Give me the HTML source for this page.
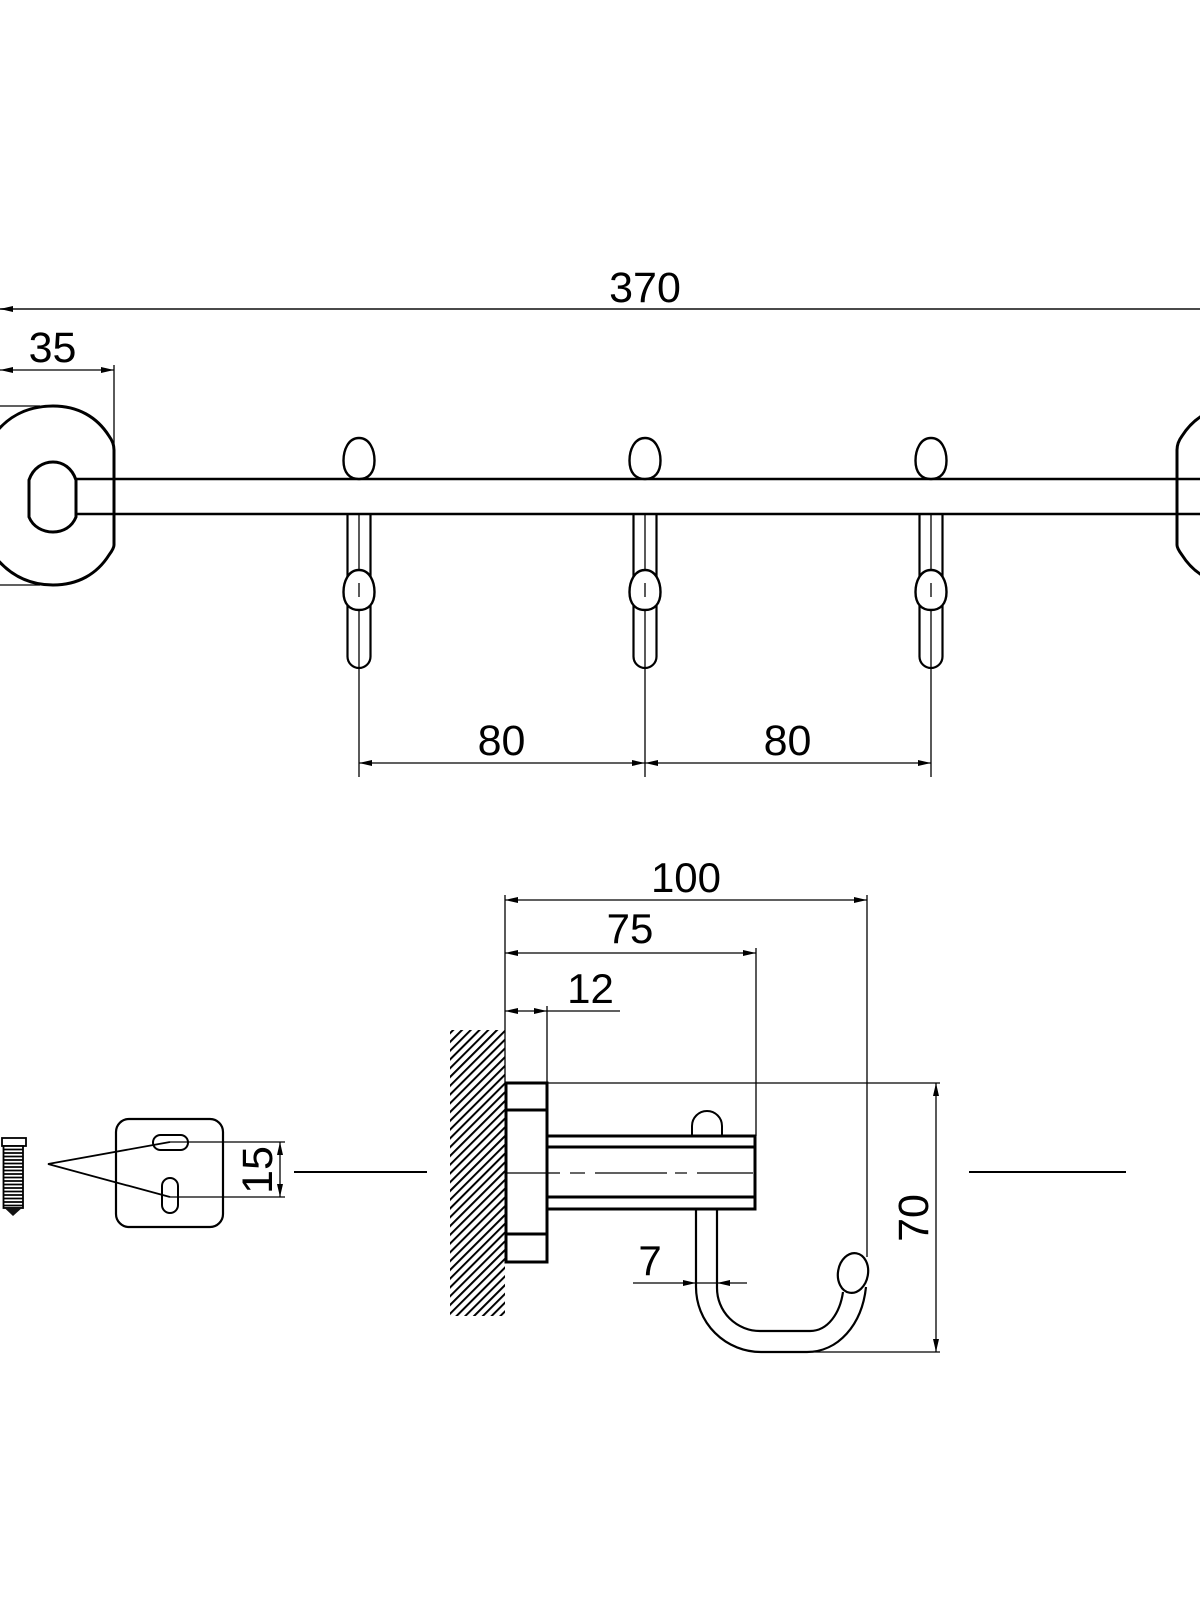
<!DOCTYPE html>
<html>
<head>
<meta charset="utf-8">
<style>
html,body{margin:0;padding:0;background:#fff;}
svg{display:block;}
text{font-family:"Liberation Sans",Arial,sans-serif;fill:#000;}
</style>
</head>
<body>
<svg width="1200" height="1600" viewBox="0 0 1200 1600" xmlns="http://www.w3.org/2000/svg">
<defs>
<pattern id="hatch" width="6.2" height="6.2" patternUnits="userSpaceOnUse" patternTransform="rotate(45)">
<line x1="1" y1="0" x2="1" y2="6.2" stroke="#000" stroke-width="2"/>
</pattern>
<g id="hook">
<path d="M-11.5,515 V656.5 A11.5,11.5 0 0 0 11.5,656.5 V515" fill="none" stroke="#000" stroke-width="2.2"/>
<line x1="0" y1="515" x2="0" y2="777" stroke="#000" stroke-width="1.3"/>
<path d="M0,570 C10.9,570 15.5,582 15.5,592 C15.5,604 9.3,610 0,610 C-9.3,610 -15.5,604 -15.5,592 C-15.5,582 -10.9,570 0,570 Z" fill="#fff" stroke="#000" stroke-width="2.4"/>
<line x1="0" y1="583" x2="0" y2="597" stroke="#000" stroke-width="1.3"/>
<path d="M0,438 C10.9,438 15.5,450.3 15.5,460.6 C15.5,472.9 9.3,479 0,479 C-9.3,479 -15.5,472.9 -15.5,460.6 C-15.5,450.3 -10.9,438 0,438 Z" fill="#fff" stroke="#000" stroke-width="2.4"/>
</g>
<g id="plate">
<path d="M114,545 L114,450 C114,444 112,440 109,436 C97,417 78,406 53,406 C25,406 5,418 -10,440 L-10,550 C5,572 25,585 53,585 C78,585 97,574 109,555 C112,551 114,548 114,545 Z" fill="none" stroke="#000" stroke-width="3"/>
<path d="M29,480 C33,468 43,462 53,462 C63,462 72,468 76,480 L76,517 C72,527 63,532 53,532 C43,532 33,527 29,517 Z" fill="none" stroke="#000" stroke-width="3"/>
</g>
</defs>

<!-- ===== TOP VIEW ===== -->
<line x1="0" y1="309" x2="1200" y2="309" stroke="#4a4a4a" stroke-width="2"/>
<polygon points="0,309 13,306 13,312" fill="#000"/>
<text x="645" y="302" font-size="43" text-anchor="middle">370</text>

<line x1="0" y1="370" x2="114" y2="370" stroke="#000" stroke-width="1.3"/>
<polygon points="0,370 13,367 13,373" fill="#000"/>
<polygon points="114,370 101,367 101,373" fill="#000"/>
<line x1="114" y1="365" x2="114" y2="447" stroke="#000" stroke-width="1.3"/>
<text x="52.5" y="362" font-size="43" text-anchor="middle">35</text>

<line x1="0" y1="406" x2="40" y2="406" stroke="#000" stroke-width="1.3"/>
<line x1="0" y1="585" x2="40" y2="585" stroke="#000" stroke-width="1.3"/>

<use href="#plate"/>
<use href="#plate" transform="translate(1291,0) scale(-1,1)"/>

<line x1="76" y1="479" x2="1200" y2="479" stroke="#000" stroke-width="2.5"/>
<line x1="76" y1="514" x2="1200" y2="514" stroke="#000" stroke-width="2.5"/>

<use href="#hook" transform="translate(359,0)"/>
<use href="#hook" transform="translate(645,0)"/>
<use href="#hook" transform="translate(931,0)"/>

<line x1="359" y1="763" x2="931" y2="763" stroke="#000" stroke-width="1.3"/>
<polygon points="359,763 372,760 372,766" fill="#000"/>
<polygon points="645,763 632,760 632,766" fill="#000"/>
<polygon points="645,763 658,760 658,766" fill="#000"/>
<polygon points="931,763 918,760 918,766" fill="#000"/>
<text x="501.5" y="755" font-size="43" text-anchor="middle">80</text>
<text x="787.5" y="755" font-size="43" text-anchor="middle">80</text>

<!-- ===== BOTTOM LEFT: screw & plate ===== -->
<rect x="2" y="1138" width="24" height="8" fill="#fff" stroke="#000" stroke-width="1.8"/>
<rect x="3.5" y="1146" width="19.5" height="62" fill="#fff" stroke="#000" stroke-width="1.8"/>
<g stroke="#000" stroke-width="1.8">
<line x1="3.5" y1="1149.5" x2="23" y2="1149.5"/>
<line x1="3.5" y1="1153" x2="23" y2="1153"/>
<line x1="3.5" y1="1156.5" x2="23" y2="1156.5"/>
<line x1="3.5" y1="1160" x2="23" y2="1160"/>
<line x1="3.5" y1="1163.5" x2="23" y2="1163.5"/>
<line x1="3.5" y1="1167" x2="23" y2="1167"/>
<line x1="3.5" y1="1170.5" x2="23" y2="1170.5"/>
<line x1="3.5" y1="1174" x2="23" y2="1174"/>
<line x1="3.5" y1="1177.5" x2="23" y2="1177.5"/>
<line x1="3.5" y1="1181" x2="23" y2="1181"/>
<line x1="3.5" y1="1184.5" x2="23" y2="1184.5"/>
<line x1="3.5" y1="1188" x2="23" y2="1188"/>
<line x1="3.5" y1="1191.5" x2="23" y2="1191.5"/>
<line x1="3.5" y1="1195" x2="23" y2="1195"/>
<line x1="3.5" y1="1198.5" x2="23" y2="1198.5"/>
<line x1="3.5" y1="1202" x2="23" y2="1202"/>
<line x1="3.5" y1="1205.5" x2="23" y2="1205.5"/>
</g>
<polygon points="3.5,1207 23,1207 13,1216" fill="#111"/>

<rect x="116" y="1119" width="107" height="108" rx="13" fill="none" stroke="#000" stroke-width="2.2"/>
<rect x="153" y="1135" width="35" height="15" rx="7.5" fill="none" stroke="#000" stroke-width="2"/>
<rect x="162" y="1178" width="16" height="35" rx="8" fill="none" stroke="#000" stroke-width="2"/>
<polyline points="170,1142 48,1164 170,1197" fill="none" stroke="#000" stroke-width="1.8"/>
<line x1="170" y1="1142" x2="285" y2="1142" stroke="#000" stroke-width="1.2"/>
<line x1="170" y1="1197" x2="285" y2="1197" stroke="#000" stroke-width="1.2"/>
<line x1="280" y1="1142" x2="280" y2="1197" stroke="#000" stroke-width="1.3"/>
<polygon points="280,1142 277,1155 283,1155" fill="#000"/>
<polygon points="280,1197 277,1184 283,1184" fill="#000"/>
<text transform="translate(272,1170) rotate(-90)" font-size="43" text-anchor="middle">15</text>

<line x1="294" y1="1172" x2="427" y2="1172" stroke="#000" stroke-width="2"/>
<line x1="969" y1="1172" x2="1126" y2="1172" stroke="#000" stroke-width="2"/>

<!-- ===== SIDE VIEW ===== -->
<rect x="450" y="1030" width="55" height="286" fill="url(#hatch)"/>

<line x1="505" y1="895" x2="505" y2="1083" stroke="#000" stroke-width="1.3"/>
<line x1="505" y1="900" x2="867" y2="900" stroke="#000" stroke-width="1.3"/>
<polygon points="505,900 518,897 518,903" fill="#000"/>
<polygon points="867,900 854,897 854,903" fill="#000"/>
<line x1="867" y1="895" x2="867" y2="1257" stroke="#000" stroke-width="1.3"/>
<text x="686" y="892" font-size="42" text-anchor="middle">100</text>

<line x1="505" y1="953" x2="756" y2="953" stroke="#000" stroke-width="1.3"/>
<polygon points="505,953 518,950 518,956" fill="#000"/>
<polygon points="756,953 743,950 743,956" fill="#000"/>
<line x1="756" y1="948" x2="756" y2="1136" stroke="#000" stroke-width="1.3"/>
<text x="630" y="943" font-size="42" text-anchor="middle">75</text>

<line x1="505" y1="1011" x2="620" y2="1011" stroke="#000" stroke-width="1.3"/>
<polygon points="505,1011 518,1008 518,1014" fill="#000"/>
<polygon points="547,1011 534,1008 534,1014" fill="#000"/>
<line x1="547" y1="1006" x2="547" y2="1083" stroke="#000" stroke-width="1.3"/>
<text x="590.5" y="1003" font-size="42" text-anchor="middle">12</text>

<line x1="547" y1="1083" x2="940" y2="1083" stroke="#000" stroke-width="1.3"/>
<line x1="762" y1="1352" x2="940" y2="1352" stroke="#000" stroke-width="1.3"/>
<line x1="936" y1="1083" x2="936" y2="1352" stroke="#000" stroke-width="1.3"/>
<polygon points="936,1083 933,1096 939,1096" fill="#000"/>
<polygon points="936,1352 933,1339 939,1339" fill="#000"/>
<text transform="translate(928,1218) rotate(-90)" font-size="43" text-anchor="middle">70</text>

<rect x="506" y="1083" width="41" height="179" fill="#fff" stroke="#000" stroke-width="3"/>
<line x1="506" y1="1110" x2="547" y2="1110" stroke="#000" stroke-width="3"/>
<line x1="506" y1="1234" x2="547" y2="1234" stroke="#000" stroke-width="3"/>

<path d="M692,1136 V1126 A15,15 0 0 1 722,1126 V1136" fill="#fff" stroke="#000" stroke-width="2"/>

<rect x="547" y="1136" width="208" height="73" fill="#fff" stroke="#000" stroke-width="3"/>
<line x1="547" y1="1147" x2="755" y2="1147" stroke="#000" stroke-width="3"/>
<line x1="547" y1="1197" x2="755" y2="1197" stroke="#000" stroke-width="3"/>
<g stroke="#000" stroke-width="1.2">
<line x1="507" y1="1173" x2="560" y2="1173"/>
<line x1="570" y1="1173" x2="585" y2="1173"/>
<line x1="595" y1="1173" x2="667" y2="1173"/>
<line x1="675" y1="1173" x2="687" y2="1173"/>
<line x1="697" y1="1173" x2="753" y2="1173"/>
</g>

<path d="M696,1209 V1287 A65,65 0 0 0 761,1352 H807 C838,1352 862,1325 866,1287" fill="none" stroke="#000" stroke-width="2.2"/>
<path d="M717,1209 V1288 A43,43 0 0 0 760,1331 H810 C828,1331 840,1313 843,1292" fill="none" stroke="#000" stroke-width="2.2"/>
<ellipse cx="853" cy="1273" rx="15" ry="20" transform="rotate(10 853 1273)" fill="#fff" stroke="#000" stroke-width="2.2"/>

<line x1="633" y1="1283" x2="747" y2="1283" stroke="#000" stroke-width="1.3"/>
<polygon points="696,1283 683,1280 683,1286" fill="#000"/>
<polygon points="717,1283 730,1280 730,1286" fill="#000"/>
<text x="650" y="1275" font-size="42" text-anchor="middle">7</text>
</svg>
</body>
</html>
